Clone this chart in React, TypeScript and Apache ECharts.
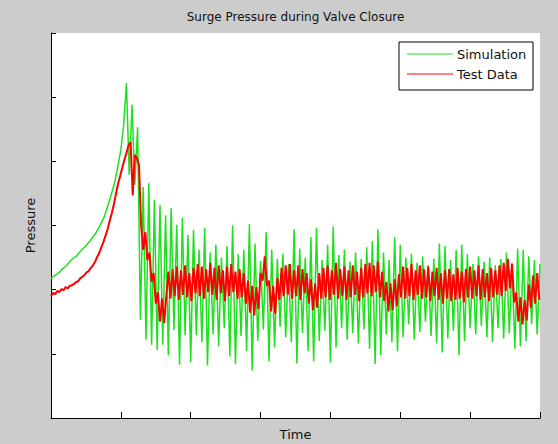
import React, { useEffect, useRef } from 'react';
import * as echarts from 'echarts';

// Series names (legend order)
const SERIES_NAMES = ['Simulation', 'Test Data'];

// Sample spacing of each record along the time axis
const SIM_STEP = 4;
const TEST_STEP = 3;

// Axis extents (no tick labels are drawn, only the tick marks)
const X_MAX = 700;
const X_INTERVAL = 100;
const Y_MAX = 600;
const Y_INTERVAL = 100;

// Simulated pressure, one value every SIM_STEP time units
const simulation = [
  218, 221, 224, 227, 232, 235, 240, 245, 249, 252,
  257, 262, 266, 271, 276, 282, 288, 296, 304, 313,
  326, 340, 355, 371, 394, 418, 456, 522, 379, 488,
  363, 453, 153, 360, 122, 366, 114, 340, 106, 332,
  114, 316, 98, 327, 137, 301, 83, 312, 129, 285,
  87, 293, 129, 262, 118, 296, 82, 258, 130, 270,
  112, 250, 140, 268, 96, 300, 84, 255, 128, 262,
  104, 302, 74, 272, 120, 245, 138, 290, 88, 262,
  110, 248, 142, 256, 126, 240, 118, 294, 85, 264,
  132, 250, 104, 282, 88, 296, 120, 246, 136, 270,
  86, 298, 110, 254, 140, 262, 122, 244, 132, 258,
  116, 248, 138, 266, 108, 276, 84, 294, 98, 258,
  130, 246, 118, 282, 104, 270, 126, 250, 146, 256,
  122, 242, 134, 252, 150, 238, 128, 248, 116, 272,
  102, 268, 124, 246, 136, 262, 98, 270, 120, 255,
  140, 240, 130, 252, 144, 244, 126, 250, 118, 238,
  140, 248, 124, 258, 132, 242, 108, 264, 112, 262,
  120, 252, 146, 246, 130, 240,
];

// Measured pressure, one value every TEST_STEP time units
const testData = [
  190, 195, 193, 198, 196, 201, 199, 204, 202, 206,
  207, 209, 212, 213, 218, 220, 223, 227, 229, 234,
  238, 243, 251, 257, 266, 274, 284, 294, 307, 319,
  333, 349, 365, 377, 390, 402, 413, 425, 430, 347,
  410, 405, 394, 301, 262, 290, 246, 258, 212, 226,
  178, 196, 150, 186, 148, 190, 228, 186, 232, 190,
  236, 184, 230, 192, 238, 188, 226, 182, 234, 194,
  240, 190, 236, 186, 232, 196, 242, 192, 234, 184,
  238, 194, 230, 182, 236, 190, 240, 196, 228, 186,
  232, 188, 226, 178, 214, 164, 206, 160, 204, 170,
  226, 214, 252, 206, 214, 166, 206, 162, 218, 184,
  234, 190, 238, 192, 240, 186, 230, 190, 238, 184,
  232, 194, 226, 178, 216, 168, 210, 172, 226, 186,
  234, 188, 238, 184, 230, 192, 242, 186, 232, 190,
  236, 184, 230, 188, 238, 192, 228, 182, 234, 188,
  240, 194, 242, 190, 238, 196, 244, 188, 228, 182,
  212, 166, 210, 168, 216, 174, 224, 188, 236, 186,
  234, 190, 240, 184, 230, 192, 238, 186, 232, 188,
  236, 182, 228, 190, 234, 184, 226, 178, 230, 186,
  232, 182, 224, 184, 234, 186, 228, 180, 232, 188,
  236, 186, 230, 190, 238, 184, 232, 188, 226, 182,
  234, 188, 230, 192, 238, 190, 242, 198, 248, 202,
  240, 180, 196, 150, 188, 146, 184, 152, 208, 172,
  222, 178, 226, 184,
];

const COLORS = ['#1ee11e', '#ff0000'];
const FONT = '"DejaVu Sans", sans-serif';

export default function App() {
  const ref = useRef<HTMLDivElement>(null);

  useEffect(() => {
    if (!ref.current) return;
    const chart = echarts.init(ref.current, null, { renderer: 'svg' });

    const simPoints = simulation.map((v, i) => [i * SIM_STEP, v]);
    const testPoints = testData.map((v, i) => [i * TEST_STEP, v]);

    const gridLeft = 51;
    const gridTop = 33;
    const gridRight = 540;
    const gridBottom = 418;

    // legend box geometry
    const lgX = 399;
    const lgY = 42;
    const lgW = 134;
    const lgH = 48;
    const rowY = [54, 74];

    const legendItems: any[] = [];
    SERIES_NAMES.forEach((name, k) => {
      legendItems.push({
        type: 'line',
        shape: { x1: lgX + 8, y1: rowY[k], x2: lgX + 54, y2: rowY[k] },
        style: { stroke: COLORS[k], lineWidth: 1.2 },
        z: 101,
      });
      legendItems.push({
        type: 'text',
        x: lgX + 58,
        y: rowY[k],
        style: {
          text: name,
          font: `13px ${FONT}`,
          fill: '#111',
          align: 'left',
          verticalAlign: 'middle',
          textAlign: 'left',
          textVerticalAlign: 'middle',
        },
        z: 101,
      });
    });

    chart.setOption({
      animation: false,
      backgroundColor: '#cccccc',
      grid: {
        left: gridLeft,
        top: gridTop,
        width: gridRight - gridLeft,
        height: gridBottom - gridTop,
        show: true,
        backgroundColor: '#ffffff',
        borderWidth: 0,
      },
      xAxis: {
        type: 'value',
        min: 0,
        max: X_MAX,
        interval: X_INTERVAL,
        axisLine: { show: true, onZero: false, lineStyle: { color: '#000', width: 1 } },
        axisTick: { show: true, inside: true, length: 6, lineStyle: { color: '#000' } },
        axisLabel: { show: false },
        splitLine: { show: false },
      },
      yAxis: {
        type: 'value',
        min: 0,
        max: Y_MAX,
        interval: Y_INTERVAL,
        axisLine: { show: true, onZero: false, lineStyle: { color: '#000', width: 1 } },
        axisTick: { show: true, inside: true, length: 5, lineStyle: { color: '#000' } },
        axisLabel: { show: false },
        splitLine: { show: false },
      },
      series: [
        {
          name: SERIES_NAMES[0],
          type: 'line',
          data: simPoints,
          showSymbol: false,
          symbol: 'none',
          lineStyle: { color: COLORS[0], width: 1.5 },
          z: 2,
        },
        {
          name: SERIES_NAMES[1],
          type: 'line',
          data: testPoints,
          showSymbol: false,
          symbol: 'none',
          lineStyle: { color: COLORS[1], width: 2 },
          z: 3,
        },
      ],
      graphic: [
        {
          type: 'text',
          x: (gridLeft + gridRight) / 2,
          y: 17,
          style: {
            text: 'Surge Pressure during Valve Closure',
            font: `12px ${FONT}`,
            fill: '#111',
            align: 'center',
            verticalAlign: 'middle',
            textAlign: 'center',
            textVerticalAlign: 'middle',
          },
        },
        {
          type: 'text',
          x: (gridLeft + gridRight) / 2,
          y: 434,
          style: {
            text: 'Time',
            font: `13px ${FONT}`,
            fill: '#111',
            align: 'center',
            verticalAlign: 'middle',
            textAlign: 'center',
            textVerticalAlign: 'middle',
          },
        },
        {
          type: 'text',
          x: 30,
          y: (gridTop + gridBottom) / 2,
          rotation: Math.PI / 2,
          style: {
            text: 'Pressure',
            font: `13px ${FONT}`,
            fill: '#111',
            align: 'center',
            verticalAlign: 'middle',
            textAlign: 'center',
            textVerticalAlign: 'middle',
          },
        },
        {
          type: 'rect',
          shape: { x: lgX, y: lgY, width: lgW, height: lgH },
          style: { fill: '#ffffff', stroke: '#000', lineWidth: 1 },
          z: 100,
        },
        ...legendItems,
      ],
    });

    return () => chart.dispose();
  }, []);

  return (
    <div
      ref={ref}
      style={{ position: 'absolute', left: 0, top: 0, width: 558, height: 444 }}
    />
  );
}
